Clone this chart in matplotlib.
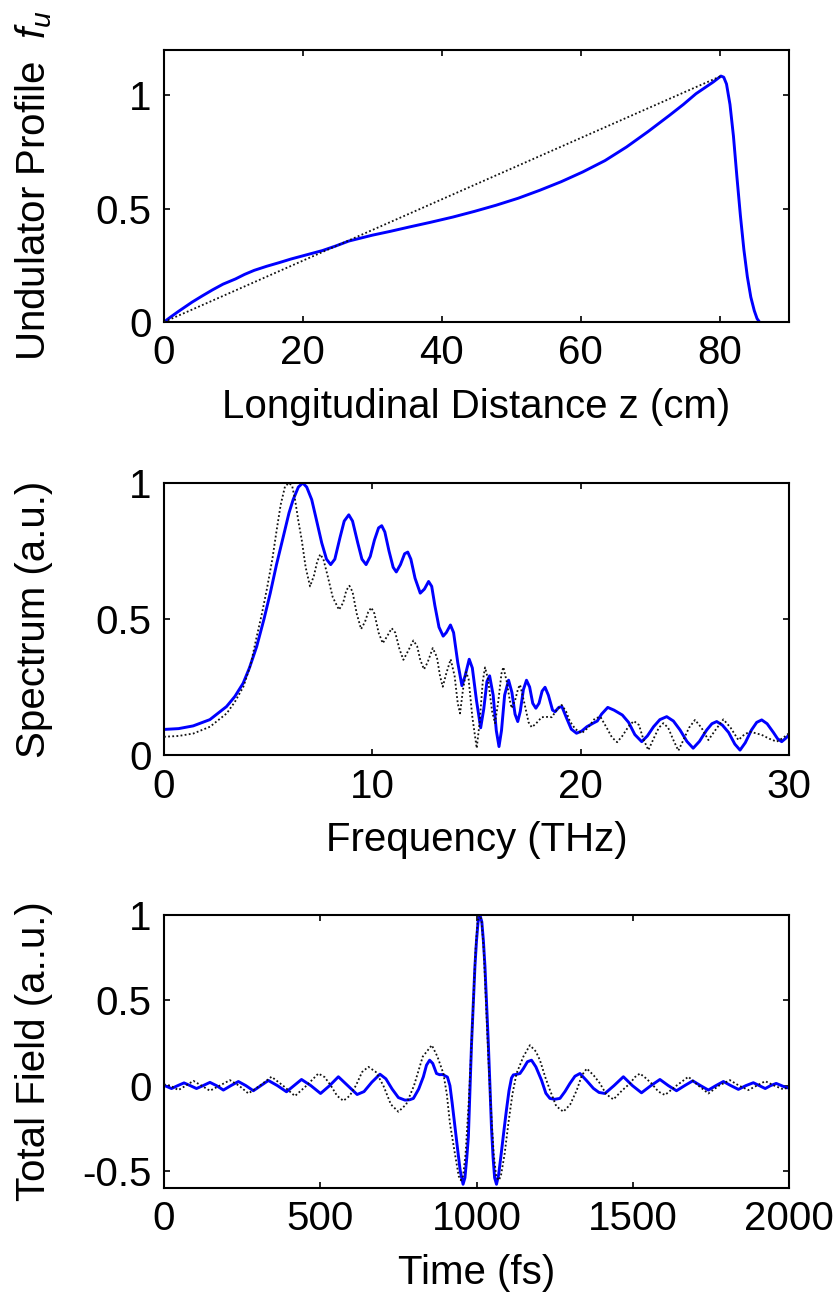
import matplotlib
matplotlib.use("Agg")
import matplotlib.pyplot as plt

plt.rcParams['font.family'] = ['Liberation Sans', 'DejaVu Sans']
plt.rcParams['mathtext.fontset'] = 'custom'
plt.rcParams['mathtext.rm'] = 'Liberation Sans'
plt.rcParams['mathtext.it'] = 'Liberation Sans:italic'
plt.rcParams['axes.unicode_minus'] = False

# ---------------- data: panel 1 (undulator profile) ----------------
z_blue = [0, 1, 2, 4.06, 5.5, 7, 8.5, 10.3, 11.6, 13, 14.8, 16.6, 18.3, 20,
          22.8, 24.7, 26.6, 28.3, 30, 32.6, 35.3, 38.4, 41.6, 44.7, 47.8, 51,
          54.1, 57.2, 60.3, 63.5, 66.6, 69.7, 72.8, 74.8, 76.6, 79.1, 80.2,
          80.6, 81.0, 81.5, 82.0, 82.5, 83.0, 83.5, 84.0, 84.5, 85.0, 85.4,
          85.75]
fu_blue = [0, 0.023, 0.045, 0.088, 0.115, 0.142, 0.167, 0.19, 0.21, 0.228,
           0.246, 0.262, 0.278, 0.292, 0.315, 0.335, 0.357, 0.37, 0.383, 0.4,
           0.419, 0.44, 0.463, 0.488, 0.515, 0.546, 0.581, 0.619, 0.662,
           0.712, 0.772, 0.84, 0.912, 0.96, 1.007, 1.059, 1.085, 1.08, 1.05,
           0.96, 0.82, 0.64, 0.47, 0.32, 0.2, 0.11, 0.05, 0.015, 0.0]
z_lin = [0, 80.2]
fu_lin = [0, 1.085]

# ---------------- data: panel 2 (spectrum) ----------------
f_blue = [0.0, 0.7, 1.4, 2.2, 3.0, 3.4, 3.8, 4.1, 4.45, 4.8, 5.1, 5.4, 5.73,
          6.0, 6.2, 6.45, 6.66, 6.85, 7.09, 7.3, 7.57, 7.8, 8.0, 8.2, 8.45,
          8.65, 8.87, 9.05, 9.3, 9.5, 9.7, 9.9, 10.1, 10.3, 10.45, 10.6, 10.8,
          11.0, 11.15, 11.35, 11.55, 11.7, 11.85, 12.05, 12.3, 12.5, 12.7,
          12.85, 13.0, 13.2, 13.4, 13.55, 13.75, 13.9, 14.1, 14.3, 14.45,
          14.65, 14.8, 15.0, 15.2, 15.35, 15.5, 15.63, 15.8, 15.95, 16.08,
          16.2, 16.35, 16.54, 16.7, 16.85, 16.98, 17.1, 17.25, 17.4, 17.55,
          17.7, 17.85, 18.0, 18.15, 18.29, 18.45, 18.65, 18.77, 18.95, 19.1,
          19.3, 19.55, 19.8, 20.05, 20.3, 20.6, 20.8, 21.0, 21.3, 21.6, 22.0,
          22.3, 22.6, 22.93, 23.2, 23.5, 23.8, 24.13, 24.45, 24.77, 25.1,
          25.4, 25.7, 26.05, 26.3, 26.53, 26.8, 27.1, 27.4, 27.65, 27.9,
          28.2, 28.45, 28.69, 28.95, 29.25, 29.45, 29.65, 29.85, 30.0]
s_blue = [0.094, 0.097, 0.107, 0.13, 0.178, 0.215, 0.264, 0.32, 0.399, 0.5,
          0.595, 0.7, 0.804, 0.89, 0.939, 0.985, 1.0, 0.985, 0.939, 0.87,
          0.78, 0.72, 0.70, 0.72, 0.80, 0.86, 0.883, 0.86, 0.78, 0.72, 0.70,
          0.73, 0.79, 0.835, 0.843, 0.82, 0.75, 0.69, 0.673, 0.70, 0.74,
          0.746, 0.72, 0.65, 0.595, 0.61, 0.638, 0.62, 0.55, 0.47, 0.437,
          0.45, 0.478, 0.45, 0.34, 0.255, 0.29, 0.352, 0.32, 0.2, 0.10, 0.17,
          0.27, 0.291, 0.22, 0.09, 0.031, 0.09, 0.22, 0.275, 0.23, 0.15,
          0.123, 0.16, 0.24, 0.275, 0.25, 0.19, 0.172, 0.19, 0.235, 0.249,
          0.22, 0.165, 0.159, 0.175, 0.178, 0.14, 0.095, 0.08, 0.088, 0.104,
          0.117, 0.125, 0.15, 0.175, 0.165, 0.147, 0.12, 0.075, 0.049, 0.07,
          0.104, 0.13, 0.141, 0.125, 0.092, 0.05, 0.025, 0.05, 0.092, 0.115,
          0.123, 0.11, 0.083, 0.04, 0.018, 0.045, 0.092, 0.12, 0.129, 0.115,
          0.083, 0.06, 0.049, 0.062, 0.074]
f_dot = [0.0, 0.7, 1.41, 2.21, 3.01, 3.4, 3.81, 4.15, 4.45, 4.7, 4.93, 5.2,
         5.41, 5.6, 5.81, 6.0, 6.15, 6.29, 6.45, 6.61, 6.8, 7.01, 7.2, 7.35,
         7.5, 7.65, 7.85, 8.1, 8.4, 8.6, 8.75, 8.9, 9.05, 9.25, 9.46, 9.65,
         9.8, 9.95, 10.1, 10.3, 10.5, 10.7, 10.93, 11.1, 11.3, 11.49, 11.7,
         11.97, 12.15, 12.3, 12.48, 12.65, 12.9, 13.1, 13.25, 13.38, 13.55,
         13.76, 13.95, 14.1, 14.21, 14.35, 14.5, 14.62, 14.8, 15.01, 15.15,
         15.3, 15.41, 15.55, 15.75, 15.89, 16.05, 16.2, 16.29, 16.45, 16.6,
         16.69, 16.85, 17.0, 17.09, 17.3, 17.5, 17.65, 17.85, 18.13, 18.4,
         18.61, 18.85, 19.09, 19.3, 19.49, 19.75, 20.05, 20.35, 20.69, 20.95,
         21.25, 21.5, 21.75, 22.0, 22.3, 22.55, 22.8, 23.0, 23.25, 23.5,
         23.75, 23.97, 24.2, 24.45, 24.69, 24.9, 25.2, 25.49, 25.8, 26.13,
         26.45, 26.85, 27.2, 27.57, 27.85, 28.13, 28.4, 28.69, 29.05, 29.41,
         29.7, 30.0]
s_dot = [0.067, 0.07, 0.079, 0.104, 0.153, 0.195, 0.251, 0.33, 0.435, 0.52,
         0.607, 0.72, 0.828, 0.92, 0.988, 1.0, 0.99, 0.939, 0.86, 0.791,
         0.69, 0.62, 0.66, 0.71, 0.738, 0.72, 0.66, 0.58, 0.534, 0.56, 0.605,
         0.622, 0.6, 0.52, 0.463, 0.49, 0.525, 0.542, 0.52, 0.45, 0.411,
         0.435, 0.466, 0.45, 0.39, 0.35, 0.38, 0.421, 0.4, 0.35, 0.315, 0.34,
         0.393, 0.36, 0.29, 0.251, 0.3, 0.352, 0.29, 0.19, 0.153, 0.24,
         0.305, 0.28, 0.14, 0.025, 0.12, 0.27, 0.322, 0.28, 0.16, 0.117, 0.2,
         0.3, 0.323, 0.27, 0.2, 0.172, 0.2, 0.245, 0.258, 0.19, 0.12, 0.102,
         0.115, 0.139, 0.14, 0.139, 0.165, 0.184, 0.16, 0.123, 0.095, 0.08,
         0.1, 0.135, 0.14, 0.1, 0.065, 0.047, 0.07, 0.105, 0.125, 0.11, 0.06,
         0.018, 0.06, 0.1, 0.117, 0.1, 0.055, 0.016, 0.05, 0.1, 0.129, 0.1,
         0.055, 0.09, 0.131, 0.1, 0.055, 0.075, 0.086, 0.08, 0.074, 0.06,
         0.049, 0.062, 0.08]

# ---------------- data: panel 3 (total field) ----------------
t_blue = [0, 6, 24, 44, 64, 84, 104, 125, 147, 168, 190, 214, 238, 262, 286,
          310, 334, 363, 392, 416, 440, 470, 501, 530, 558, 588, 618, 640,
          665, 691, 710, 730, 750, 771, 786, 798, 815, 830, 840, 850, 860,
          872, 882, 892, 907, 915, 922, 931, 940, 948, 957, 963, 969, 974,
          979, 984, 989, 995, 1000, 1005, 1011, 1017, 1022, 1027, 1033, 1038,
          1043, 1048, 1053, 1058, 1064, 1071, 1079, 1088, 1096, 1104, 1112,
          1118, 1128, 1139, 1150, 1163, 1176, 1190, 1208, 1222, 1235, 1250,
          1267, 1283, 1299, 1315, 1331, 1352, 1374, 1392, 1411, 1440, 1470,
          1499, 1528, 1558, 1587, 1614, 1640, 1666, 1692, 1717, 1742, 1766,
          1790, 1814, 1838, 1862, 1886, 1905, 1924, 1941, 1959, 1976, 1993,
          2000]
e_blue = [0.0, -0.003, -0.017, 0.0, 0.016, 0.0, -0.017, 0.0, 0.019, 0.0,
          -0.026, 0.0, 0.024, 0.0, -0.03, 0.0, 0.03, 0.0, -0.036, 0.0, 0.036,
          0.0, -0.046, 0.0, 0.052, 0.0, -0.052, -0.035, 0.02, 0.067, 0.04,
          -0.02, -0.07, -0.085, -0.083, -0.075, -0.02, 0.052, 0.12, 0.149,
          0.13, 0.071, 0.064, 0.065, 0.05, 0.0, -0.1, -0.24, -0.38, -0.5,
          -0.578, -0.54, -0.42, -0.3, -0.03, 0.24, 0.45, 0.7, 0.85, 0.96, 1.0,
          0.96, 0.85, 0.7, 0.45, 0.24, 0.0, -0.25, -0.42, -0.54, -0.578,
          -0.52, -0.4, -0.26, -0.14, -0.03, 0.045, 0.063, 0.066, 0.071, 0.1,
          0.14, 0.149, 0.11, 0.032, -0.045, -0.075, -0.08, -0.075, -0.035,
          0.013, 0.055, 0.071, 0.03, -0.016, -0.04, -0.046, 0.0, 0.052, 0.0,
          -0.042, 0.0, 0.036, 0.0, -0.03, 0.0, 0.028, 0.0, -0.026, 0.0, 0.024,
          0.0, -0.022, 0.0, 0.017, 0.0, -0.017, 0.0, 0.013, 0.0, -0.013,
          -0.01]
t_dot = [0, 20, 46, 70, 94, 120, 147, 178, 211, 240, 270, 307, 344, 381,
         419, 456, 494, 514, 534, 554, 574, 594, 614, 634, 654, 678, 702, 726,
         750, 775, 800, 828, 857, 875, 894, 905, 915, 931, 943, 950, 957, 965,
         975, 983, 990, 997, 1004, 1010, 1016, 1023, 1030, 1037, 1045, 1055,
         1063, 1071, 1078, 1090, 1102, 1115, 1128, 1150, 1171, 1190, 1203,
         1220, 1235, 1255, 1278, 1300, 1321, 1337, 1353, 1375, 1395, 1415,
         1438, 1465, 1491, 1507, 1523, 1541, 1560, 1582, 1603, 1640, 1678,
         1710, 1742, 1776, 1811, 1840, 1870, 1897, 1924, 1953, 1982, 2000]
e_dot = [0.007, 0.0, -0.026, 0.0, 0.028, 0.0, -0.03, 0.0, 0.032, 0.0, -0.046,
         0.0, 0.052, 0.0, -0.061, 0.0, 0.071, 0.05, 0.0, -0.06, -0.089, -0.06,
         0.0, 0.08, 0.11, 0.08, 0.0, -0.11, -0.153, -0.11, 0.0, 0.17, 0.237,
         0.17, 0.071, -0.05, -0.221, -0.4, -0.53, -0.555, -0.53, -0.4, -0.1,
         0.2, 0.5, 0.8, 0.97, 1.0, 0.97, 0.8, 0.5, 0.2, -0.1, -0.4, -0.53,
         -0.555, -0.53, -0.4, -0.221, -0.05, 0.071, 0.17, 0.237, 0.2, 0.149,
         0.05, -0.026, -0.12, -0.153, -0.11, -0.026, 0.06, 0.1, 0.06, 0.013,
         -0.05, -0.081, -0.03, 0.013, 0.05, 0.071, 0.045, 0.013, -0.035,
         -0.055, 0.0, 0.052, 0.0, -0.046, 0.0, 0.032, 0.0, -0.026, 0.0, 0.026,
         0.0, -0.022, -0.007]

# ---------------- ticks & labels ----------------
p1_xticks = [0, 20, 40, 60, 80]
p1_yticks = [0, 0.5, 1]
p1_yticklabels = ['0', '0.5', '1']
p2_xticks = [0, 10, 20, 30]
p2_yticks = [0, 0.5, 1]
p2_yticklabels = ['0', '0.5', '1']
p3_xticks = [0, 500, 1000, 1500, 2000]
p3_yticks = [-0.5, 0, 0.5, 1]
p3_yticklabels = ['-0.5', '0', '0.5', '1']

xlabels = ['Longitudinal Distance z (cm)', 'Frequency (THz)', 'Time (fs)']
ylabels = [r'Undulator Profile  $f_u$', 'Spectrum (a.u.)', 'Total Field (a..u.)']

# ---------------- figure ----------------
W, H = 839, 1301
fig = plt.figure(figsize=(W / 100, H / 100), dpi=100)
FS = 29
BLUE = '#0000ff'
DOT = dict(color='#111111', lw=1.3, linestyle=(0, (1, 1.3)))

def make_ax(top_px, bot_px):
    left = 164 / W
    width = 625 / W
    return fig.add_axes([left, 1 - bot_px / H, width, (bot_px - top_px) / H])

axes = [make_ax(50, 322), make_ax(483, 755), make_ax(915, 1188)]

ax1, ax2, ax3 = axes
ax1.plot(z_blue, fu_blue, color=BLUE, lw=2.1, zorder=2)
ax1.plot(z_lin, fu_lin, zorder=3, **DOT)
ax1.set_xlim(0, 90)
ax1.set_ylim(0, 1.2)
ax1.set_xticks(p1_xticks)
ax1.set_xticklabels([str(v) for v in p1_xticks])
ax1.set_yticks(p1_yticks)
ax1.set_yticklabels(p1_yticklabels)

ax2.plot(f_blue, s_blue, color=BLUE, lw=2.1, zorder=2)
ax2.plot(f_dot, s_dot, zorder=3, **DOT)
ax2.set_xlim(0, 30)
ax2.set_ylim(0, 1)
ax2.set_xticks(p2_xticks)
ax2.set_xticklabels([str(v) for v in p2_xticks])
ax2.set_yticks(p2_yticks)
ax2.set_yticklabels(p2_yticklabels)

ax3.plot(t_blue, e_blue, color=BLUE, lw=2.1, zorder=2)
ax3.plot(t_dot, e_dot, zorder=3, **DOT)
ax3.set_xlim(0, 2000)
ax3.set_ylim(-0.6, 1)
ax3.set_xticks(p3_xticks)
ax3.set_xticklabels([str(v) for v in p3_xticks])
ax3.set_yticks(p3_yticks)
ax3.set_yticklabels(p3_yticklabels)

for ax, xl, yl in zip(axes, xlabels, ylabels):
    for sp in ax.spines.values():
        sp.set_linewidth(1.5)
    ax.tick_params(direction='in', length=4.5, width=1.2, top=True,
                   right=True, labelsize=FS, pad=9)
    ax.set_xlabel(xl, fontsize=FS, labelpad=11)
    bb = ax.get_position()
    fig.text(45 / W, (bb.y0 + bb.y1) / 2, yl, fontsize=FS, rotation=90,
             rotation_mode='anchor', ha='center', va='baseline')

fig.savefig('out.png', dpi=100)
